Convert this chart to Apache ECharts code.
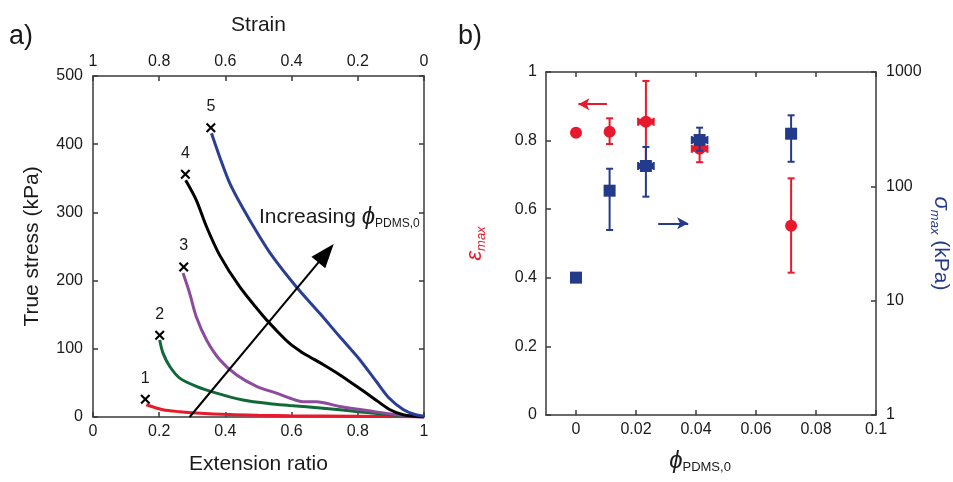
<!DOCTYPE html>
<html>
<head>
<meta charset="utf-8">
<script src="https://cdn.jsdelivr.net/npm/echarts@6/dist/echarts.min.js"></script>
<style>
  html, body { margin: 0; padding: 0; background: #fff; }
  #chart { width: 953px; height: 482px; }
</style>
</head>
<body>
<div id="chart"></div>
<script>
// ---------- panel a) true stress vs extension ratio ----------
const curve1 = [[0.161, 18], [0.2115, 10.7], [0.262, 7.8], [0.312, 5.9], [0.413, 3.6], [0.5, 2.6], [0.594, 1.9], [0.796, 1], [1, 0]];
const curve2 = [[0.2015, 113], [0.2115, 93.7], [0.232, 74], [0.262, 57], [0.312, 45], [0.373, 35], [0.453, 25], [0.534, 19.5], [0.594, 17], [0.695, 13], [0.796, 8.2], [0.896, 3.4], [1, 0.5]];
const curve3 = [[0.272, 211], [0.292, 181.5], [0.312, 147], [0.343, 113], [0.383, 84], [0.433, 62], [0.494, 45], [0.554, 35], [0.594, 27.8], [0.634, 22.5], [0.675, 22.5], [0.745, 15.5], [0.846, 8.2], [0.947, 1.5], [1, 0]];
const curve4 = [[0.28, 347], [0.312, 318], [0.343, 279], [0.383, 237], [0.443, 191], [0.514, 148], [0.554, 127], [0.594, 108], [0.634, 94], [0.655, 88], [0.695, 77], [0.745, 62], [0.796, 45], [0.846, 28], [0.896, 11], [0.937, 3.4], [1, 0]];
const curve5 = [[0.358, 416], [0.383, 381], [0.413, 343], [0.453, 306], [0.494, 272], [0.54, 237], [0.614, 191], [0.685, 152], [0.745, 118], [0.806, 84], [0.856, 52], [0.896, 27], [0.937, 11], [0.97, 4], [1, 1]];
const curveColors = ['#e8192c', '#11693a', '#8c4b9d', '#000000', '#2a3e93'];

// failure points (x marks) and their sample numbers
const breakX = [0.158, 0.2015, 0.274, 0.279, 0.356];
const breakStress = [26, 120, 220, 356, 424];
const breakLabels = ['1', '2', '3', '4', '5'];

// ---------- panel b) maximum strain and stress vs PDMS fraction ----------
const phiPDMS = [0, 0.0112, 0.0233, 0.0412, 0.0717];
const phiErr = [0, 0, 0.0026, 0.0026, 0];
const epsMax = [0.823, 0.826, 0.855, 0.776, 0.552];
const epsLow = [0.823, 0.79, 0.74, 0.737, 0.415];
const epsHigh = [0.823, 0.865, 0.974, 0.815, 0.69];
const sigmaMax = [15.9, 91.6, 150.6, 254, 288.5];
const sigmaLow = [15.9, 41.5, 81.2, 205, 164];
const sigmaHigh = [15.9, 142.6, 221, 326, 418];
const phiTicks = [0, 0.02, 0.04, 0.06, 0.08, 0.1];

const RED = '#e8192c';
const BLUE = '#243a8a';
const INK = '#1a1a1a';
const AXIS = '#3a3a3a';
const FONT = '"Liberation Sans", Arial, "DejaVu Sans", sans-serif';

const chart = echarts.init(document.getElementById('chart'), null, { renderer: 'canvas' });

function axisBase(extra) {
  return Object.assign({
    type: 'value',
    splitLine: { show: false },
    axisLine: { show: true, onZero: false, lineStyle: { color: AXIS, width: 1.5 } },
    axisTick: { show: true, inside: true, length: 5, lineStyle: { color: AXIS, width: 1.5 } },
    axisLabel: { color: INK, fontSize: 16, fontFamily: FONT },
    nameTextStyle: { color: INK, fontSize: 21, fontFamily: FONT }
  }, extra);
}

const subRich = (color, base, sub) => ({
  b: { fontFamily: FONT, fontStyle: 'italic', fontSize: base, color: color, lineHeight: 26 },
  s: { fontFamily: FONT, fontStyle: 'italic', fontSize: sub, color: color, lineHeight: 10, verticalAlign: 'bottom' },
  n: { fontFamily: FONT, fontSize: 21, color: color, lineHeight: 26 }
});

const phiSubRich = {
  b: { fontFamily: FONT, fontStyle: 'italic', fontSize: 24, color: INK, lineHeight: 26 },
  s: { fontFamily: FONT, fontSize: 13, color: INK, lineHeight: 8, verticalAlign: 'bottom' }
};

function errorBars(color) {
  return function (params, api) {
    const x = api.value(0), y = api.value(1), lo = api.value(2), hi = api.value(3), xe = api.value(4);
    const thin = { stroke: color, lineWidth: 2 };
    const cap = 3.5;
    const kids = [];
    if (hi > lo) {
      const t = api.coord([x, hi]);
      const b = api.coord([x, lo]);
      kids.push({ type: 'line', shape: { x1: t[0], y1: t[1], x2: b[0], y2: b[1] }, style: thin });
      kids.push({ type: 'line', shape: { x1: t[0] - cap, y1: t[1], x2: t[0] + cap, y2: t[1] }, style: thin });
      kids.push({ type: 'line', shape: { x1: b[0] - cap, y1: b[1], x2: b[0] + cap, y2: b[1] }, style: thin });
    }
    if (xe > 0) {
      const l = api.coord([x - xe, y]);
      const r = api.coord([x + xe, y]);
      kids.push({ type: 'line', shape: { x1: l[0], y1: l[1], x2: r[0], y2: r[1] }, style: { stroke: color, lineWidth: 6 } });
      kids.push({ type: 'line', shape: { x1: l[0], y1: l[1] - cap - 0.5, x2: l[0], y2: l[1] + cap + 0.5 }, style: thin });
      kids.push({ type: 'line', shape: { x1: r[0], y1: r[1] - cap - 0.5, x2: r[0], y2: r[1] + cap + 0.5 }, style: thin });
    }
    return { type: 'group', children: kids };
  };
}

const curves = [curve1, curve2, curve3, curve4, curve5];
const curveSeries = curves.map((pts, i) => ({
  name: 'Sample ' + breakLabels[i],
  type: 'line',
  xAxisIndex: 0,
  yAxisIndex: 0,
  data: pts,
  showSymbol: false,
  smooth: 0.3,
  lineStyle: { color: curveColors[i], width: 3 },
  itemStyle: { color: curveColors[i] },
  z: 3
}));

const crossPath = 'path://M0,1.5L1.5,0L5,3.5L8.5,0L10,1.5L6.5,5L10,8.5L8.5,10L5,6.5L1.5,10L0,8.5L3.5,5Z';

const option = {
  animation: false,
  backgroundColor: '#ffffff',
  textStyle: { fontFamily: FONT },
  grid: [
    { left: 93, top: 76, width: 331, height: 341 },
    { left: 546, top: 72, width: 330, height: 343 }
  ],
  xAxis: [
    axisBase({
      gridIndex: 0, min: 0, max: 1, interval: 0.2, position: 'bottom',
      axisLabel: { color: INK, fontSize: 16, fontFamily: FONT, margin: 7 },
      name: 'Extension ratio', nameLocation: 'middle', nameGap: 37
    }),
    axisBase({
      gridIndex: 0, min: 0, max: 1, interval: 0.2, position: 'top', inverse: true,
      axisLabel: { color: INK, fontSize: 16, fontFamily: FONT, margin: 6 },
      name: 'Strain', nameLocation: 'middle', nameGap: 40
    }),
    axisBase({
      gridIndex: 1, min: -0.01, max: 0.1, position: 'bottom',
      axisTick: { show: true, inside: true, length: 5, customValues: phiTicks, lineStyle: { color: AXIS, width: 1.5 } },
      axisLabel: { color: INK, fontSize: 16, fontFamily: FONT, margin: 7, customValues: phiTicks },
      name: '{b|ϕ}{s|PDMS,0}', nameLocation: 'middle', nameGap: 33,
      nameTextStyle: { rich: phiSubRich, padding: [0, 22, 0, 0] }
    }),
    axisBase({
      gridIndex: 1, min: -0.01, max: 0.1, position: 'top',
      axisTick: { show: true, inside: true, length: 5, customValues: phiTicks, lineStyle: { color: AXIS, width: 1.5 } },
      axisLabel: { show: false }
    })
  ],
  yAxis: [
    axisBase({
      gridIndex: 0, min: 0, max: 500, interval: 100, position: 'left',
      axisLabel: { color: INK, fontSize: 16, fontFamily: FONT, margin: 10 },
      name: 'True stress (kPa)', nameLocation: 'middle', nameGap: 50
    }),
    axisBase({
      gridIndex: 0, min: 0, max: 500, interval: 100, position: 'right',
      axisLabel: { show: false }
    }),
    axisBase({
      gridIndex: 1, min: 0, max: 1, interval: 0.2, position: 'left',
      axisLabel: { color: INK, fontSize: 16, fontFamily: FONT, margin: 9 },
      name: '{b|ε}{s|max}', nameLocation: 'middle', nameGap: 58,
      nameTextStyle: { rich: subRich(RED, 22, 13) }
    }),
    axisBase({
      gridIndex: 1, type: 'log', logBase: 10, min: 1, max: 1000, position: 'right',
      axisLabel: { color: INK, fontSize: 16, fontFamily: FONT, margin: 10, formatter: v => String(Math.round(v)) },
      minorTick: { show: false },
      name: '{b|σ}{s|max}{n| (kPa)}', nameLocation: 'middle', nameGap: 52, nameRotate: -90,
      nameTextStyle: { rich: subRich(BLUE, 22, 13) }
    })
  ],
  graphic: [
    { type: 'text', left: 9, top: 23, style: { text: 'a)', fontFamily: FONT, fontSize: 27, fill: INK } },
    { type: 'text', left: 458, top: 23, style: { text: 'b)', fontFamily: FONT, fontSize: 27, fill: INK } },
    {
      type: 'text', left: 259, top: 205,
      style: {
        text: '{a|Increasing }{b|ϕ}{s|PDMS,0}',
        rich: {
          a: { fontFamily: FONT, fontSize: 21, fill: INK, lineHeight: 26 },
          b: { fontFamily: FONT, fontStyle: 'italic', fontSize: 24, fill: INK, lineHeight: 26 },
          s: { fontFamily: FONT, fontSize: 12, fill: INK, lineHeight: 8, verticalAlign: 'bottom' }
        }
      }
    }
  ],
  series: curveSeries.concat([
    {
      name: 'Break points',
      type: 'scatter',
      xAxisIndex: 0,
      yAxisIndex: 0,
      symbol: crossPath,
      symbolSize: 10,
      itemStyle: { color: '#000', opacity: 1 },
      data: breakX.map((x, i) => ({ value: [x, breakStress[i]], name: breakLabels[i] })),
      label: {
        show: true, position: 'top', distance: 8,
        formatter: p => p.name,
        color: INK, fontSize: 16, fontFamily: FONT
      },
      markLine: {
        silent: true,
        symbol: ['none', 'triangle'],
        symbolSize: [18, 24],
        lineStyle: { color: '#000', width: 2, type: 'solid' },
        label: { show: false },
        data: [[{ coord: [0.292, 0] }, { coord: [0.704, 240] }]]
      },
      z: 5
    },
    {
      name: 'ε max error',
      type: 'custom',
      xAxisIndex: 2,
      yAxisIndex: 2,
      renderItem: errorBars(RED),
      encode: { x: 0, y: 1 },
      data: phiPDMS.map((x, i) => [x, epsMax[i], epsLow[i], epsHigh[i], phiErr[i]]),
      z: 2
    },
    {
      name: 'ε max',
      type: 'scatter',
      xAxisIndex: 2,
      yAxisIndex: 2,
      symbol: 'circle',
      symbolSize: 12,
      itemStyle: { color: RED, opacity: 1 },
      data: phiPDMS.map((x, i) => [x, epsMax[i]]),
      markLine: {
        silent: true,
        symbol: ['none', 'arrow'],
        symbolSize: [9, 11],
        lineStyle: { color: RED, width: 2, type: 'solid' },
        label: { show: false },
        data: [[{ coord: [0.0103, 0.906] }, { coord: [0.0008, 0.906] }]]
      },
      z: 3
    },
    {
      name: 'σ max error',
      type: 'custom',
      xAxisIndex: 2,
      yAxisIndex: 3,
      renderItem: errorBars(BLUE),
      encode: { x: 0, y: 1 },
      data: phiPDMS.map((x, i) => [x, sigmaMax[i], sigmaLow[i], sigmaHigh[i], phiErr[i]]),
      z: 4
    },
    {
      name: 'σ max',
      type: 'scatter',
      xAxisIndex: 2,
      yAxisIndex: 3,
      symbol: 'rect',
      symbolSize: 12,
      itemStyle: { color: BLUE, opacity: 1 },
      data: phiPDMS.map((x, i) => [x, sigmaMax[i]]),
      markLine: {
        silent: true,
        symbol: ['none', 'arrow'],
        symbolSize: [9, 11],
        lineStyle: { color: BLUE, width: 2, type: 'solid' },
        label: { show: false },
        data: [[{ coord: [0.0274, 47.5] }, { coord: [0.0374, 47.5] }]]
      },
      z: 5
    }
  ])
};

chart.setOption(option);
</script>
</body>
</html>
